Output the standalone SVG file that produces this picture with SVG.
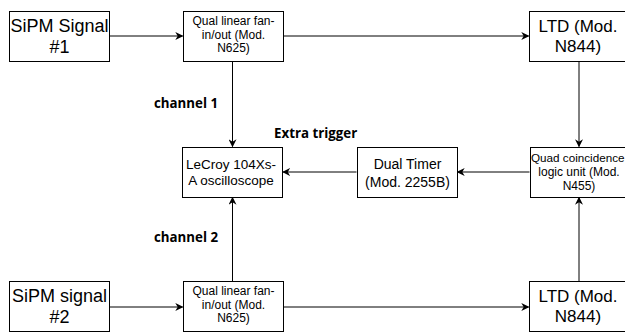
<svg xmlns="http://www.w3.org/2000/svg" width="625" height="335" viewBox="0 0 625 335">
<defs>
<marker id="arr" viewBox="0 0 10 10" refX="9" refY="5" markerWidth="8" markerHeight="8" markerUnits="userSpaceOnUse" orient="auto">
<path d="M0,0 L10,5 L0,10 L3,5 Z" fill="#000"/>
</marker>
</defs>
<style>
.box{fill:#fff;stroke:#000;stroke-width:1}
.t{font-family:"Liberation Sans",Arial,sans-serif;fill:#000;text-anchor:middle}
.lbl{font-family:"Open Sans","Noto Sans",sans-serif;font-weight:bold;font-size:13.3px;fill:#000}
.c{fill:none;stroke:#000;stroke-width:1;marker-end:url(#arr)}
.l{fill:none;stroke:#000;stroke-width:1}
</style>
<rect width="625" height="335" fill="#fff"/>
<g id="connectors">
<path class="c" d="M109.5,36 H182.5"/>
<path class="c" d="M283.5,36 H528.5"/>
<path class="c" d="M579,61.5 V146.5"/>
<path class="c" d="M232.5,61.5 V146.5"/>
<path class="c" d="M529.5,172 H457.5"/>
<path class="c" d="M356.5,172 H283"/>
<path class="c" d="M232.5,281 V197.5"/>
<path class="c" d="M579,281 V197.5"/>
<path class="c" d="M109.5,307 H182.5"/>
<path class="c" d="M283.5,307 H528.5"/>
</g>
<g id="sipm1">
<rect class="box" x="9.5" y="11.5" width="100" height="50"/>
<text class="t" font-size="18" x="59.5" y="31.5">SiPM Signal</text>
<text class="t" font-size="18" x="59.5" y="52.5">#1</text>
</g>
<g id="fan1">
<rect class="box" x="183.5" y="11.5" width="100" height="50"/>
<text class="t" font-size="12" x="233.5" y="25">Qual linear fan-</text>
<text class="t" font-size="12" x="233.5" y="38.5">in/out (Mod.</text>
<text class="t" font-size="12" x="233.5" y="52">N625)</text>
</g>
<g id="ltd1">
<rect class="box" x="529.5" y="11.5" width="100" height="50"/>
<text class="t" font-size="17" x="578" y="31.5">LTD (Mod.</text>
<text class="t" font-size="17" x="578" y="51.5">N844)</text>
</g>
<g id="lecroy">
<rect class="box" x="182.5" y="147.5" width="100" height="50"/>
<text class="t" font-size="13.5" x="231" y="169">LeCroy 104Xs-</text>
<text class="t" font-size="13.5" x="231" y="184.5">A oscilloscope</text>
</g>
<g id="timer">
<rect class="box" x="357.5" y="147.5" width="100" height="50"/>
<text class="t" font-size="14" x="407.5" y="169">Dual Timer</text>
<text class="t" font-size="14" x="407.5" y="186.5">(Mod. 2255B)</text>
</g>
<g id="quad">
<rect class="box" x="530.5" y="147.5" width="100" height="50"/>
<text class="t" font-size="11.7" x="577.8" y="162">Quad coincidence</text>
<text class="t" font-size="12" x="579" y="176">logic unit (Mod.</text>
<text class="t" font-size="12" x="579" y="190">N455)</text>
</g>
<g id="sipm2">
<rect class="box" x="9.5" y="281.5" width="100" height="50"/>
<text class="t" font-size="18" x="59.5" y="302">SiPM signal</text>
<text class="t" font-size="18" x="59.5" y="323">#2</text>
</g>
<g id="fan2">
<rect class="box" x="183.5" y="281.5" width="100" height="50"/>
<text class="t" font-size="12" x="233.5" y="295">Qual linear fan-</text>
<text class="t" font-size="12" x="233.5" y="308.5">in/out (Mod.</text>
<text class="t" font-size="12" x="233.5" y="322">N625)</text>
</g>
<g id="ltd2">
<rect class="box" x="529.5" y="281.5" width="100" height="50"/>
<text class="t" font-size="17" x="578" y="302">LTD (Mod.</text>
<text class="t" font-size="17" x="578" y="322">N844)</text>
</g>
<g id="labels">
<text class="lbl" x="154" y="108">channel 1</text>
<text class="lbl" x="274" y="138">Extra trigger</text>
<text class="lbl" x="154" y="242">channel 2</text>
</g>
</svg>
